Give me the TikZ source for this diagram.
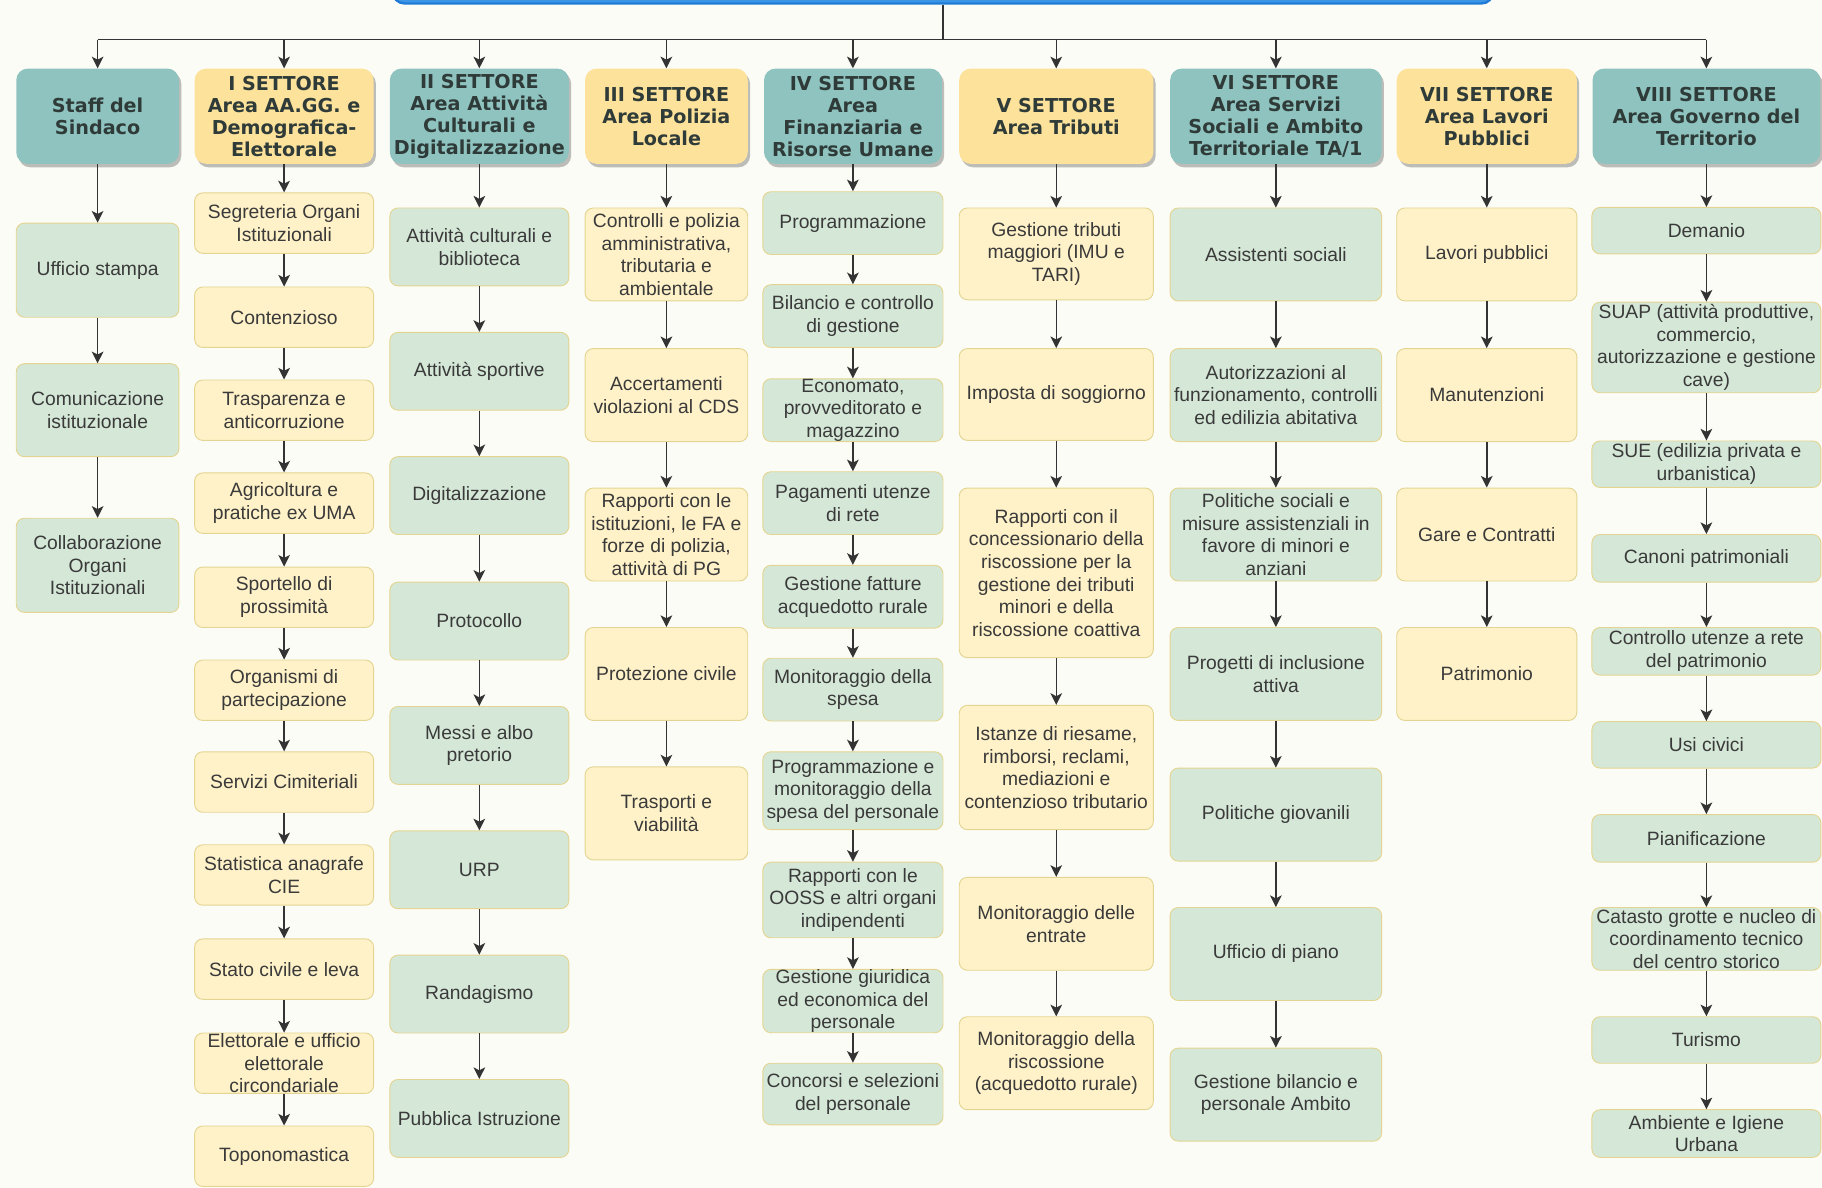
\documentclass[tikz,border=0pt]{standalone}
\usepackage{fontspec}
\setmainfont{Liberation Sans}
\newfontfamily\hdrfont{DejaVu Sans}
\usetikzlibrary{arrows.meta,shadows}
\definecolor{bg}{HTML}{FCFCF6}
\definecolor{hteal}{HTML}{8FC3BF}
\definecolor{hyel}{HTML}{FDE29B}
\definecolor{cteal}{HTML}{D5E8D7}
\definecolor{cyel}{HTML}{FFF2C8}
\definecolor{cbord}{HTML}{E3D591}
\definecolor{ink}{HTML}{333333}
\definecolor{hink}{HTML}{2F3B38}
\definecolor{txt}{HTML}{3A3A3A}
\definecolor{barblue}{HTML}{3D95E6}
\definecolor{barline}{HTML}{1F7BD6}
\begin{document}
\begin{tikzpicture}[x=1pt,y=-1pt,
  hdr/.style={rounded corners=10pt, inner sep=0pt, align=center, text=hink,
     font=\hdrfont\bfseries\fontsize{16.5}{19}\selectfont,
     minimum height=82pt,
     drop shadow={shadow xshift=2pt,shadow yshift=-3pt,fill=black,opacity=0.25}},
  ht/.style={hdr, fill=hteal},
  hy/.style={hdr, fill=hyel},
  cbox/.style={rounded corners=7pt, inner sep=0pt, align=center, text=txt, draw=cbord, line width=0.8pt, font=\fontsize{16.6}{19.5}\selectfont},
  ct/.style={cbox, fill=cteal},
  cy/.style={cbox, fill=cyel},
  sz/.style 2 args={minimum width=#1pt, minimum height=#2pt},
  arr/.style={draw=ink, line width=1.3pt, -{Stealth[length=10pt,width=10pt,inset=2.5pt]}},
  ln/.style={draw=ink, line width=1.3pt},
  topbar/.style={rounded corners=10pt, fill=barblue, draw=barline, line width=2pt, minimum width=947pt, minimum height=40pt, inner sep=0pt},
]
\fill[bg] (0,0) rectangle (1568,1022);
\useasboundingbox (0,0) rectangle (1568,1022);

% top bar
\node[topbar, anchor=south] (top) at (811.5,4) {};
\coordinate (bus) at (811,34);

% headers
\node[ht, minimum width=140pt] (h0) at (84,100) {Staff del\\Sindaco};
\node[hy, minimum width=154pt] (h1) at (244.5,100) {I SETTORE\\Area AA.GG. e\\Demografica-\\Elettorale};
\node[ht, minimum width=154pt] (h2) at (412.5,100) {II SETTORE\\Area Attività\\Culturali e\\Digitalizzazione};
\node[hy, minimum width=140pt] (h3) at (573.5,100) {III SETTORE\\Area Polizia\\Locale};
\node[ht, minimum width=153pt] (h4) at (734,100) {IV SETTORE\\Area\\Finanziaria e\\Risorse Umane};
\node[hy, minimum width=167pt] (h5) at (909,100) {V SETTORE\\Area Tributi};
\node[ht, minimum width=182pt] (h6) at (1098,100) {VI SETTORE\\Area Servizi\\Sociali e Ambito\\Territoriale TA/1};
\node[hy, minimum width=155pt] (h7) at (1279.5,100) {VII SETTORE\\Area Lavori\\Pubblici};
\node[ht, minimum width=196pt] (h8) at (1468.5,100) {VIII SETTORE\\Area Governo del\\Territorio};

\draw[ln] (top.south) -- (top.south |- bus);
\draw[ln] (h0.north |- bus) -- (h8.north |- bus);
\foreach \h in {h0,h1,h2,h3,h4,h5,h6,h7,h8}{
  \draw[arr] (\h.north |- bus) -- (\h.north);
}

% column 0
\node[ct, sz={140}{81}] (c0a) at (84,232.5) {Ufficio stampa};
\node[ct, sz={140}{80}] (c0b) at (84,353) {Comunicazione\\istituzionale};
\node[ct, sz={140}{81}] (c0c) at (84,486.5) {Collaborazione\\Organi\\Istituzionali};
\draw[arr] (h0) -- (c0a);
\draw[arr] (c0a) -- (c0b);
\draw[arr] (c0b) -- (c0c);

% column 1
\node[cy, sz={154}{52}] (c1a) at (244.5,192) {Segreteria Organi\\Istituzionali};
\node[cy, sz={154}{52}] (c1b) at (244.5,273) {Contenzioso};
\node[cy, sz={154}{52}] (c1c) at (244.5,353) {Trasparenza e\\anticorruzione};
\node[cy, sz={154}{52}] (c1d) at (244.5,433) {Agricoltura e\\pratiche ex UMA};
\node[cy, sz={154}{52}] (c1e) at (244.5,514) {Sportello di\\prossimità};
\node[cy, sz={154}{52}] (c1f) at (244.5,594) {Organismi di\\partecipazione};
\node[cy, sz={154}{52}] (c1g) at (244.5,673) {Servizi Cimiteriali};
\node[cy, sz={154}{52}] (c1h) at (244.5,753) {Statistica anagrafe\\CIE};
\node[cy, sz={154}{52}] (c1i) at (244.5,834) {Stato civile e leva};
\node[cy, sz={154}{52}] (c1j) at (244.5,915) {Elettorale e ufficio\\elettorale\\circondariale};
\node[cy, sz={154}{52}] (c1k) at (244.5,995) {Toponomastica};
\draw[arr] (h1) -- (c1a);
\foreach \a/\b in {c1a/c1b,c1b/c1c,c1c/c1d,c1d/c1e,c1e/c1f,c1f/c1g,c1g/c1h,c1h/c1i,c1i/c1j,c1j/c1k}{
  \draw[arr] (\a) -- (\b);
}

% column 2
\node[ct, sz={154}{67}] (c2a) at (412.5,212.5) {Attività culturali e\\biblioteca};
\node[ct, sz={154}{67}] (c2b) at (412.5,319.5) {Attività sportive};
\node[ct, sz={154}{67}] (c2c) at (412.5,426.5) {Digitalizzazione};
\node[ct, sz={154}{67}] (c2d) at (412.5,534.5) {Protocollo};
\node[ct, sz={154}{67}] (c2e) at (412.5,641.5) {Messi e albo\\pretorio};
\node[ct, sz={154}{67}] (c2f) at (412.5,748.5) {URP};
\node[ct, sz={154}{67}] (c2g) at (412.5,855.5) {Randagismo};
\node[ct, sz={154}{67}] (c2h) at (412.5,962.5) {Pubblica Istruzione};
\draw[arr] (h2) -- (c2a);
\foreach \a/\b in {c2a/c2b,c2b/c2c,c2c/c2d,c2d/c2e,c2e/c2f,c2f/c2g,c2g/c2h}{
  \draw[arr] (\a) -- (\b);
}

% column 3
\node[cy, sz={140}{80}] (c3a) at (573.5,219) {Controlli e polizia\\amministrativa,\\tributaria e\\ambientale};
\node[cy, sz={140}{80}] (c3b) at (573.5,340) {Accertamenti\\violazioni al CDS};
\node[cy, sz={140}{80}] (c3c) at (573.5,460) {Rapporti con le\\istituzioni, le FA e\\forze di polizia,\\attività di PG};
\node[cy, sz={140}{80}] (c3d) at (573.5,580) {Protezione civile};
\node[cy, sz={140}{80}] (c3e) at (573.5,700) {Trasporti e\\viabilità};
\draw[arr] (h3) -- (c3a);
\foreach \a/\b in {c3a/c3b,c3b/c3c,c3c/c3d,c3d/c3e}{
  \draw[arr] (\a) -- (\b);
}

% column 4
\node[ct, sz={155}{54}] (c4a) at (734,192) {Programmazione};
\node[ct, sz={155}{54}] (c4b) at (734,272) {Bilancio e controllo\\di gestione};
\node[ct, sz={155}{54}] (c4c) at (734,353) {Economato,\\provveditorato e\\magazzino};
\node[ct, sz={155}{54}] (c4d) at (734,433) {Pagamenti utenze\\di rete};
\node[ct, sz={155}{54}] (c4e) at (734,513.5) {Gestione fatture\\acquedotto rurale};
\node[ct, sz={155}{54}] (c4f) at (734,593.5) {Monitoraggio della\\spesa};
\node[ct, sz={155}{67}] (c4g) at (734,680.5) {Programmazione e\\monitoraggio della\\spesa del personale};
\node[ct, sz={155}{65}] (c4h) at (734,774.5) {Rapporti con le\\OOSS e altri organi\\indipendenti};
\node[ct, sz={155}{53}] (c4i) at (734,861.5) {Gestione giuridica\\ed economica del\\personale};
\node[ct, sz={155}{53}] (c4j) at (734,941.5) {Concorsi e selezioni\\del personale};
\draw[arr] (h4) -- (c4a);
\foreach \a/\b in {c4a/c4b,c4b/c4c,c4c/c4d,c4d/c4e,c4e/c4f,c4f/c4g,c4g/c4h,c4h/c4i,c4i/c4j}{
  \draw[arr] (\a) -- (\b);
}

% column 5
\node[cy, sz={167}{79}] (c5a) at (909,218.5) {Gestione tributi\\maggiori (IMU e\\TARI)};
\node[cy, sz={167}{79}] (c5b) at (909,339.5) {Imposta di soggiorno};
\node[cy, sz={167}{146}] (c5c) at (909,493) {Rapporti con il\\concessionario della\\riscossione per la\\gestione dei tributi\\minori e della\\riscossione coattiva};
\node[cy, sz={167}{107}] (c5d) at (909,660.5) {Istanze di riesame,\\rimborsi, reclami,\\mediazioni e\\contenzioso tributario};
\node[cy, sz={167}{80}] (c5e) at (909,795) {Monitoraggio delle\\entrate};
\node[cy, sz={167}{80}] (c5f) at (909,915) {Monitoraggio della\\riscossione\\(acquedotto rurale)};
\draw[arr] (h5) -- (c5a);
\foreach \a/\b in {c5a/c5b,c5b/c5c,c5c/c5d,c5d/c5e,c5e/c5f}{
  \draw[arr] (\a) -- (\b);
}

% column 6
\node[ct, sz={182}{80}] (c6a) at (1098,219) {Assistenti sociali};
\node[ct, sz={182}{80}] (c6b) at (1098,340) {Autorizzazioni al\\funzionamento, controlli\\ed edilizia abitativa};
\node[ct, sz={182}{80}] (c6c) at (1098,460) {Politiche sociali e\\misure assistenziali in\\favore di minori e\\anziani};
\node[ct, sz={182}{80}] (c6d) at (1098,580) {Progetti di inclusione\\attiva};
\node[ct, sz={182}{80}] (c6e) at (1098,701) {Politiche giovanili};
\node[ct, sz={182}{80}] (c6f) at (1098,821) {Ufficio di piano};
\node[ct, sz={182}{80}] (c6g) at (1098,942) {Gestione bilancio e\\personale Ambito};
\draw[arr] (h6) -- (c6a);
\foreach \a/\b in {c6a/c6b,c6b/c6c,c6c/c6d,c6d/c6e,c6e/c6f,c6f/c6g}{
  \draw[arr] (\a) -- (\b);
}

% column 7
\node[cy, sz={155}{80}] (c7a) at (1279.5,219) {Lavori pubblici};
\node[cy, sz={155}{80}] (c7b) at (1279.5,340) {Manutenzioni};
\node[cy, sz={155}{80}] (c7c) at (1279.5,460) {Gare e Contratti};
\node[cy, sz={155}{80}] (c7d) at (1279.5,580) {Patrimonio};
\draw[arr] (h7) -- (c7a);
\foreach \a/\b in {c7a/c7b,c7b/c7c,c7c/c7d}{
  \draw[arr] (\a) -- (\b);
}

% column 8
\node[ct, sz={197}{40}] (c8a) at (1468.5,198.5) {Demanio};
\node[ct, sz={197}{78}] (c8b) at (1468.5,299) {SUAP (attività produttive,\\commercio,\\autorizzazione e gestione\\cave)};
\node[ct, sz={197}{40}] (c8c) at (1468.5,399.5) {SUE (edilizia privata e\\urbanistica)};
\node[ct, sz={197}{41}] (c8d) at (1468.5,480.5) {Canoni patrimoniali};
\node[ct, sz={197}{41}] (c8e) at (1468.5,560.5) {Controllo utenze a rete\\del patrimonio};
\node[ct, sz={197}{40}] (c8f) at (1468.5,641) {Usi civici};
\node[ct, sz={197}{41}] (c8g) at (1468.5,721.5) {Pianificazione};
\node[ct, sz={197}{54}] (c8h) at (1468.5,808) {Catasto grotte e nucleo di\\coordinamento tecnico\\del centro storico};
\node[ct, sz={197}{40}] (c8i) at (1468.5,895) {Turismo};
\node[ct, sz={197}{41}] (c8j) at (1468.5,975.5) {Ambiente e Igiene\\Urbana};
\draw[arr] (h8) -- (c8a);
\foreach \a/\b in {c8a/c8b,c8b/c8c,c8c/c8d,c8d/c8e,c8e/c8f,c8f/c8g,c8g/c8h,c8h/c8i,c8i/c8j}{
  \draw[arr] (\a) -- (\b);
}
\end{tikzpicture}
\end{document}
